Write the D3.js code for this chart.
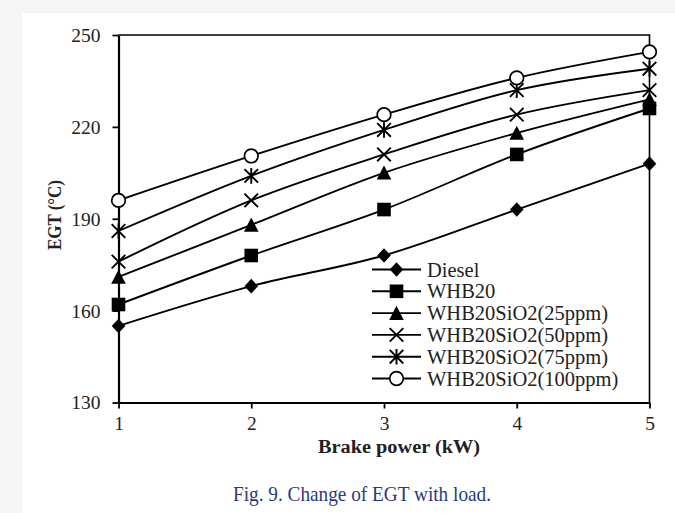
<!DOCTYPE html>
<html>
<head>
<meta charset="utf-8">
<script src="https://cdn.jsdelivr.net/npm/d3@7"></script>
<style>
  html, body { margin: 0; padding: 0; background: #ffffff; }
  svg { display: block; }
</style>
</head>
<body>
<svg id="chart" width="675" height="513"></svg>
<script>
// ---------------- data ----------------
const brakePower = [1, 2, 3, 4, 5];
const seriesNames = ["Diesel", "WHB20", "WHB20SiO2(25ppm)", "WHB20SiO2(50ppm)", "WHB20SiO2(75ppm)", "WHB20SiO2(100ppm)"];
const markerTypes = ["diamond", "square", "triangle", "cross", "star", "circle"];
const diesel   = [155, 168, 178, 193, 208];
const whb20    = [162, 178, 193, 211, 226];
const sio2_25  = [171, 188, 205, 218, 229];
const sio2_50  = [176, 196, 211, 224, 232];
const sio2_75  = [186, 204, 219, 232, 239];
const sio2_100 = [196, 210.5, 224, 236, 244.5];
const seriesValues = [diesel, whb20, sio2_25, sio2_50, sio2_75, sio2_100];
const yTicks = [130, 160, 190, 220, 250];
const xTicks = [1, 2, 3, 4, 5];
const xTitle = "Brake power (kW)";
const yTitle = "EGT (°C)";
const caption = "Fig. 9. Change of EGT with load.";

// ---------------- layout ----------------
const svg = d3.select("#chart");
const W = 675, H = 513;
const plot = { left: 118.5, right: 649.5, top: 35, bottom: 402.5 };

// page background (light gray strip on left and top)
svg.append("rect").attr("x", 0).attr("y", 0).attr("width", W).attr("height", H).attr("fill", "#f5f5f5");
svg.append("rect").attr("x", 22).attr("y", 13).attr("width", W - 22).attr("height", H - 13).attr("fill", "#ffffff");

const x = d3.scaleLinear().domain([1, 5]).range([plot.left, plot.right]);
const y = d3.scaleLinear().domain([130, 250]).range([plot.bottom, plot.top]);

const serif = "'Liberation Serif', 'Times New Roman', serif";

// frame (top and right)
svg.append("path")
  .attr("d", `M${plot.left},${plot.top} H${plot.right} V${plot.bottom}`)
  .attr("fill", "none").attr("stroke", "#000").attr("stroke-width", 1.6);

// axes
const xAxis = d3.axisBottom(x).tickValues(xTicks).tickSize(6).tickSizeOuter(0).tickPadding(8).tickFormat(d3.format("d"));
const yAxis = d3.axisLeft(y).tickValues(yTicks).tickSize(6).tickSizeOuter(0).tickPadding(12).tickFormat(d3.format("d"));

const gx = svg.append("g").attr("transform", `translate(0,${plot.bottom})`).call(xAxis);
const gy = svg.append("g").attr("transform", `translate(${plot.left},0)`).call(yAxis);
[gx, gy].forEach(g => {
  g.select(".domain").attr("stroke", "#000").attr("stroke-width", 2.2);
  g.selectAll(".tick line").attr("stroke", "#000").attr("stroke-width", 1.8);
  g.selectAll(".tick text").attr("fill", "#222").attr("font-family", serif).attr("font-size", 19.5);
});
gy.selectAll(".tick text").attr("dy", "0.33em");

// axis titles
svg.append("text")
  .attr("x", 399).attr("y", 453)
  .attr("text-anchor", "middle")
  .attr("font-family", serif).attr("font-weight", "bold").attr("font-size", 18)
  .attr("fill", "#222")
  .attr("textLength", 162).attr("lengthAdjust", "spacingAndGlyphs")
  .text(xTitle);

svg.append("text")
  .attr("transform", "translate(61,215) rotate(-90)")
  .attr("text-anchor", "middle")
  .attr("font-family", serif).attr("font-weight", "bold").attr("font-size", 18)
  .attr("fill", "#222")
  .attr("textLength", 70).attr("lengthAdjust", "spacingAndGlyphs")
  .text(yTitle);

// caption
svg.append("text")
  .attr("x", 362).attr("y", 501)
  .attr("text-anchor", "middle")
  .attr("font-family", serif).attr("font-size", 22)
  .attr("fill", "#2b3a7c")
  .attr("textLength", 258).attr("lengthAdjust", "spacingAndGlyphs")
  .text(caption);

// ---------------- markers ----------------
function drawMarker(g, type, cx, cy) {
  const s = 6.8;
  const stroke = "#000";
  if (type === "diamond") {
    g.append("path").attr("d", `M${cx},${cy - s - 0.5} L${cx + s},${cy} L${cx},${cy + s + 0.5} L${cx - s},${cy} Z`).attr("fill", stroke);
  } else if (type === "square") {
    g.append("rect").attr("x", cx - s).attr("y", cy - s).attr("width", 2 * s).attr("height", 2 * s).attr("fill", stroke);
  } else if (type === "triangle") {
    g.append("path").attr("d", `M${cx},${cy - s - 0.5} L${cx + s + 0.5},${cy + s} L${cx - s - 0.5},${cy + s} Z`).attr("fill", stroke);
  } else if (type === "cross") {
    g.append("path").attr("d", `M${cx - s},${cy - s} L${cx + s},${cy + s} M${cx - s},${cy + s} L${cx + s},${cy - s}`)
      .attr("stroke", stroke).attr("stroke-width", 1.9).attr("fill", "none");
  } else if (type === "star") {
    g.append("path").attr("d", `M${cx - s},${cy - s} L${cx + s},${cy + s} M${cx - s},${cy + s} L${cx + s},${cy - s} M${cx},${cy - s - 1} L${cx},${cy + s + 1}`)
      .attr("stroke", stroke).attr("stroke-width", 1.9).attr("fill", "none");
  } else if (type === "circle") {
    g.append("circle").attr("cx", cx).attr("cy", cy).attr("r", s).attr("fill", "#fff").attr("stroke", stroke).attr("stroke-width", 1.7);
  }
}

// ---------------- lines ----------------
const line = d3.line()
  .x((d, i) => x(brakePower[i]))
  .y(d => y(d))
  .curve(d3.curveCatmullRom.alpha(0.5));

const gLines = svg.append("g");
seriesValues.forEach((vals, si) => {
  gLines.append("path")
    .attr("d", line(vals))
    .attr("fill", "none")
    .attr("stroke", "#000")
    .attr("stroke-width", 1.9);
});
const gMarks = svg.append("g");
seriesValues.forEach((vals, si) => {
  vals.forEach((v, i) => drawMarker(gMarks, markerTypes[si], x(brakePower[i]), y(v)));
});

// ---------------- legend ----------------
const legend = svg.append("g");
const legX0 = 372, legX1 = 421, legTextX = 427;
const legY = d3.scalePoint().domain(seriesNames).range([269.5, 378.5]);
seriesNames.forEach((name, si) => {
  const ly = legY(name);
  legend.append("line").attr("x1", legX0).attr("x2", legX1).attr("y1", ly).attr("y2", ly)
    .attr("stroke", "#000").attr("stroke-width", 1.9);
  drawMarker(legend, markerTypes[si], (legX0 + legX1) / 2, ly);
  legend.append("text")
    .attr("x", legTextX).attr("y", ly).attr("dy", "0.35em")
    .attr("font-family", serif).attr("font-size", 20.5).attr("fill", "#222")
    .text(name);
});
</script>
</body>
</html>
